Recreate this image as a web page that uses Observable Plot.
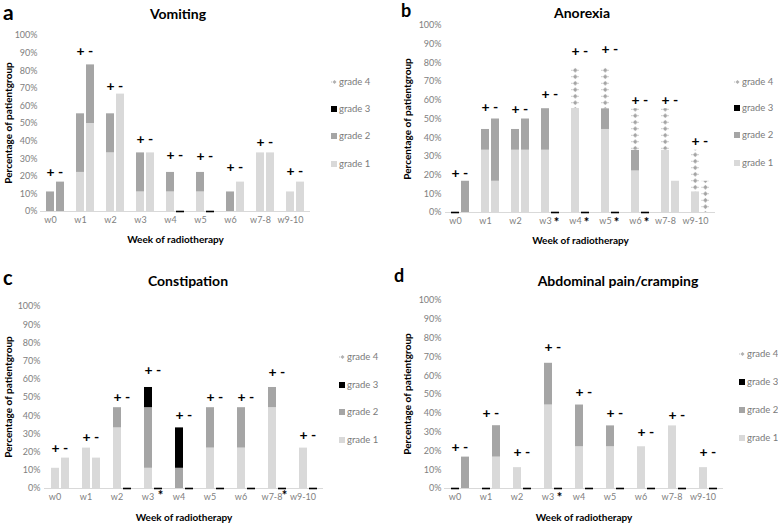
<!DOCTYPE html>
<html><head><meta charset="utf-8">
<script src="https://cdn.jsdelivr.net/npm/d3@7"></script>
<script src="https://cdn.jsdelivr.net/npm/@observablehq/plot@0.6"></script>
<style>
body{margin:0;background:#fff;}
#root{position:relative;width:778px;height:526px;overflow:hidden;font-family:Lato,"Open Sans",sans-serif;}
.abs{position:absolute;}
.letter{font-weight:bold;color:#000;line-height:1;}
.title{font-weight:bold;font-size:14px;color:#000;transform:translateX(-50%);white-space:nowrap;line-height:1;}
.ylab{font-weight:bold;font-size:10px;color:#000;white-space:nowrap;line-height:1;transform:translate(-50%,-50%) rotate(-90deg);}
.leg{font-size:9.5px;color:#7a7a7a;white-space:nowrap;line-height:1;display:flex;align-items:center;}
.leg .sw{display:inline-block;width:6px;height:6px;margin-right:2px;}
.chart [aria-label="fx-axis label"]{font-weight:bold;fill:#000;font-size:10px;}
</style>
</head><body>
<div id="root"></div>
<script>
const weeks = ["w0","w1","w2","w3","w4","w5","w6","w7-8","w9-10"];
const signs = ["+","-"];
const grades = ["grade 1","grade 2","grade 3","grade 4"];
const gradeColors = ["#d9d9d9","#a5a5a5","#000000","#a6a6a6"];
const yTicks = [0,10,20,30,40,50,60,70,80,90,100];

// each entry per week: [+ group, - group] (% of patient group)
const vomitingG1 = [[0,0],[22.2,50],[33.3,66.7],[11.1,33.3],[11.1,0],[11.1,0],[0,16.7],[33.3,33.3],[11.1,16.7]];
const vomitingG2 = [[11.1,16.7],[33.3,33.3],[22.2,0],[22.2,0],[11.1,0],[11.1,0],[11.1,0],[0,0],[0,0]];
const vomitingG3 = [[0,0],[0,0],[0,0],[0,0],[0,0],[0,0],[0,0],[0,0],[0,0]];
const vomitingG4 = [[0,0],[0,0],[0,0],[0,0],[0,0],[0,0],[0,0],[0,0],[0,0]];
const vomitingSignY = [22,91,71,41,32,31,25,39,23];
const vomitingStars = [];

const anorexiaG1 = [[0,0],[33.3,16.7],[33.3,33.3],[33.3,0],[55.6,0],[44.4,0],[22.2,0],[33.3,16.7],[11.1,0]];
const anorexiaG2 = [[0,16.7],[11.1,33.3],[11.1,16.7],[22.2,0],[0,0],[11.1,0],[11.1,0],[0,0],[0,0]];
const anorexiaG3 = [[0,0],[0,0],[0,0],[0,0],[0,0],[0,0],[0,0],[0,0],[0,0]];
const anorexiaG4 = [[0,0],[0,0],[0,0],[0,0],[22.2,0],[22.2,0],[22.2,0],[22.2,0],[22.2,16.7]];
const anorexiaSignY = [21,56,55,63,86,87,60,60,38];
const anorexiaStars = ["w3","w4","w5","w6"];

const constipationG1 = [[11.1,16.7],[22.2,16.7],[33.3,0],[11.1,0],[0,0],[22.2,0],[22.2,0],[44.4,0],[22.2,0]];
const constipationG2 = [[0,0],[0,0],[11.1,0],[33.3,0],[11.1,0],[22.2,0],[22.2,0],[11.1,0],[0,0]];
const constipationG3 = [[0,0],[0,0],[0,0],[11.1,0],[22.2,0],[0,0],[0,0],[0,0],[0,0]];
const constipationG4 = [[0,0],[0,0],[0,0],[0,0],[0,0],[0,0],[0,0],[0,0],[0,0]];
const constipationSignY = [22,28,50,65,40,50,50,64,29];
const constipationStars = ["w3","w7-8"];

const abdominalG1 = [[0,0],[0,16.7],[11.1,0],[44.4,0],[22.2,0],[22.2,0],[22.2,0],[33.3,0],[11.1,0]];
const abdominalG2 = [[0,16.7],[0,16.7],[0,0],[22.2,0],[22.2,0],[11.1,0],[0,0],[0,0],[0,0]];
const abdominalG3 = [[0,0],[0,0],[0,0],[0,0],[0,0],[0,0],[0,0],[0,0],[0,0]];
const abdominalG4 = [[0,0],[0,0],[0,0],[0,0],[0,0],[0,0],[0,0],[0,0],[0,0]];
const abdominalSignY = [22,40,19,75,51,40,30,39,19];
const abdominalStars = ["w3"];

const panels = [
  {letter:"a", letterSize:21, letterX:3, letterY:1, title:"Vomiting", titleX:178, titleY:7,
   g:[vomitingG1,vomitingG2,vomitingG3,vomitingG4], signY:vomitingSignY, stars:vomitingStars,
   left:0, top:25, width:320, height:230, mt:10, mb:44, ml:40, mr:10, tp:3, xOff:31, ylabX:8,
   starDx:1, starDy:10, legX:331, legY:[82,109,136,164]},
  {letter:"b", letterSize:18, letterX:401, letterY:1, title:"Anorexia", titleX:582, titleY:6,
   g:[anorexiaG1,anorexiaG2,anorexiaG3,anorexiaG4], signY:anorexiaSignY, stars:anorexiaStars,
   left:389, top:15, width:335, height:240, mt:10, mb:43, ml:53, mr:6, tp:4, xOff:31, ylabX:407,
   starDx:1, starDy:10, legX:734, legY:[82,108,135,163]},
  {letter:"c", letterSize:20, letterX:3, letterY:267, title:"Constipation", titleX:188, titleY:274,
   g:[constipationG1,constipationG2,constipationG3,constipationG4], signY:constipationSignY, stars:constipationStars,
   left:0, top:296, width:335, height:230, mt:10, mb:38, ml:40, mr:9, tp:4, xOff:32, ylabX:8,
   starDx:2, starDy:7, legX:339, legY:[357,385,412,440]},
  {letter:"d", letterSize:18, letterX:394, letterY:266, title:"Abdominal pain/cramping", titleX:618, titleY:274,
   g:[abdominalG1,abdominalG2,abdominalG3,abdominalG4], signY:abdominalSignY, stars:abdominalStars,
   left:389, top:290, width:340, height:236, mt:10, mb:38, ml:52, mr:4, tp:3, xOff:32, ylabX:407,
   starDx:1, starDy:9, legX:739, legY:[354,382,410,438]}
];

const root = document.getElementById("root");
const SVGNS = "http://www.w3.org/2000/svg";

for (const p of panels) {
  // grade-4 hatch pattern, aligned to the bar band of this panel
  const facetStep = (p.width - p.ml - p.mr) / weeks.length;
  const stepX = facetStep / (2 - 0.2 + 2 * 0.6);
  const patId = "g4" + p.letter;
  const defs = document.createElementNS(SVGNS, "svg");
  defs.setAttribute("width", 0); defs.setAttribute("height", 0);
  defs.style.position = "absolute";
  const bw = 0.8 * stepX, cx = bw / 2;
  defs.innerHTML = `<defs><pattern id="${patId}" patternUnits="userSpaceOnUse" x="${p.ml + 0.6 * stepX}" y="0" width="${stepX}" height="6.5">
      <rect width="${stepX}" height="6.5" fill="#fff"/>
      <path d="M${cx} 1 L${cx + 2.3} 3.25 L${cx} 5.5 L${cx - 2.3} 3.25Z" fill="#a3a3a3"/>
      <path d="M${cx - 4} 3.25H${cx - 2.6}M${cx + 2.6} 3.25H${cx + 4}" stroke="#b5b5b5" stroke-width="0.9"/>
    </pattern></defs>`;
  root.appendChild(defs);
  const colors = [gradeColors[0], gradeColors[1], gradeColors[2], `url(#${patId})`];

  const rows = [];
  const totals = [];
  weeks.forEach((w, i) => {
    signs.forEach((s, j) => {
      let tot = 0;
      grades.forEach((g, k) => {
        const v = p.g[k][i][j];
        tot += v;
        rows.push({week:w, sign:s, grade:g, value:v});
      });
      totals.push({week:w, sign:s, total:tot});
    });
  });
  const zeroRows = totals.filter(d => d.total === 0);
  const signRows = [];
  weeks.forEach((w, i) => signs.forEach(s => signRows.push({week:w, sign:s, y:p.signY[i]})));
  const starRows = p.stars.map(w => ({week:w, sign:"-", y:0}));

  const chart = Plot.plot({
    className: "chart",
    width: p.width, height: p.height,
    marginTop: p.mt, marginBottom: p.mb, marginLeft: p.ml, marginRight: p.mr,
    style: {fontFamily:"Lato, 'Open Sans', sans-serif", fontSize:"9px", color:"#808080", background:"transparent", overflow:"visible"},
    fx: {domain: weeks, padding: 0},
    x: {domain: signs, type: "band", paddingInner: 0.2, paddingOuter: 0.6, axis: null},
    y: {domain: [0,100], ticks: yTicks, tickFormat: d => d + "%", tickSize: 0, tickPadding: p.tp, label: null},
    color: {type: "ordinal", domain: grades, range: colors},
    marks: [
      Plot.axisFx({anchor: "bottom", tickSize: 0, tickPadding: 5, dx: -5, label: "Week of radiotherapy", labelAnchor: "center", labelOffset: p.xOff}),
      Plot.ruleY([0], {stroke: "#d9d9d9", strokeWidth: 1}),
      Plot.barY(rows, {fx: "week", x: "sign", y: "value", fill: "grade"}),
      Plot.tickY(zeroRows, {fx: "week", x: "sign", y: "total", stroke: "#000", strokeWidth: 1.6}),
      Plot.text(signRows, {fx: "week", x: "sign", y: "y", text: "sign", fill: "#000", fontWeight: "bold", fontSize: 14}),
      Plot.text(starRows, {fx: "week", x: "sign", y: "y", text: d => "*", fill: "#000", fontWeight: "bold", fontSize: 13, dy: p.starDy, dx: p.starDx})
    ]
  });
  chart.style.position = "absolute";
  chart.style.left = p.left + "px";
  chart.style.top = p.top + "px";
  root.appendChild(chart);

  const L = document.createElement("div");
  L.className = "abs letter";
  L.style.left = p.letterX + "px"; L.style.top = p.letterY + "px"; L.style.fontSize = p.letterSize + "px";
  L.textContent = p.letter;
  root.appendChild(L);

  const T = document.createElement("div");
  T.className = "abs title";
  T.style.left = p.titleX + "px"; T.style.top = p.titleY + "px";
  T.textContent = p.title;
  root.appendChild(T);

  const Y = document.createElement("div");
  Y.className = "abs ylab";
  Y.style.left = p.ylabX + "px";
  Y.style.top = (p.top + p.mt + (p.height - p.mt - p.mb) / 2) + "px";
  Y.textContent = "Percentage of patientgroup";
  root.appendChild(Y);

  const legOrder = [3,2,1,0];
  legOrder.forEach((k, idx) => {
    const e = document.createElement("div");
    e.className = "abs leg";
    e.style.left = p.legX + "px";
    e.style.top = (p.legY[idx] - 5) + "px";
    const sw = document.createElement("span");
    sw.className = "sw";
    if (k === 3) {
      sw.innerHTML = '<svg width="6" height="6" style="display:block"><path d="M3.5 1 L5.5 3 L3.5 5 L1.5 3Z" fill="#b0b0b0"/><path d="M0 3H1" stroke="#c0c0c0"/></svg>';
    } else {
      sw.style.background = gradeColors[k];
    }
    e.appendChild(sw);
    e.appendChild(document.createTextNode(grades[k]));
    root.appendChild(e);
  });
}
</script>
</body></html>
